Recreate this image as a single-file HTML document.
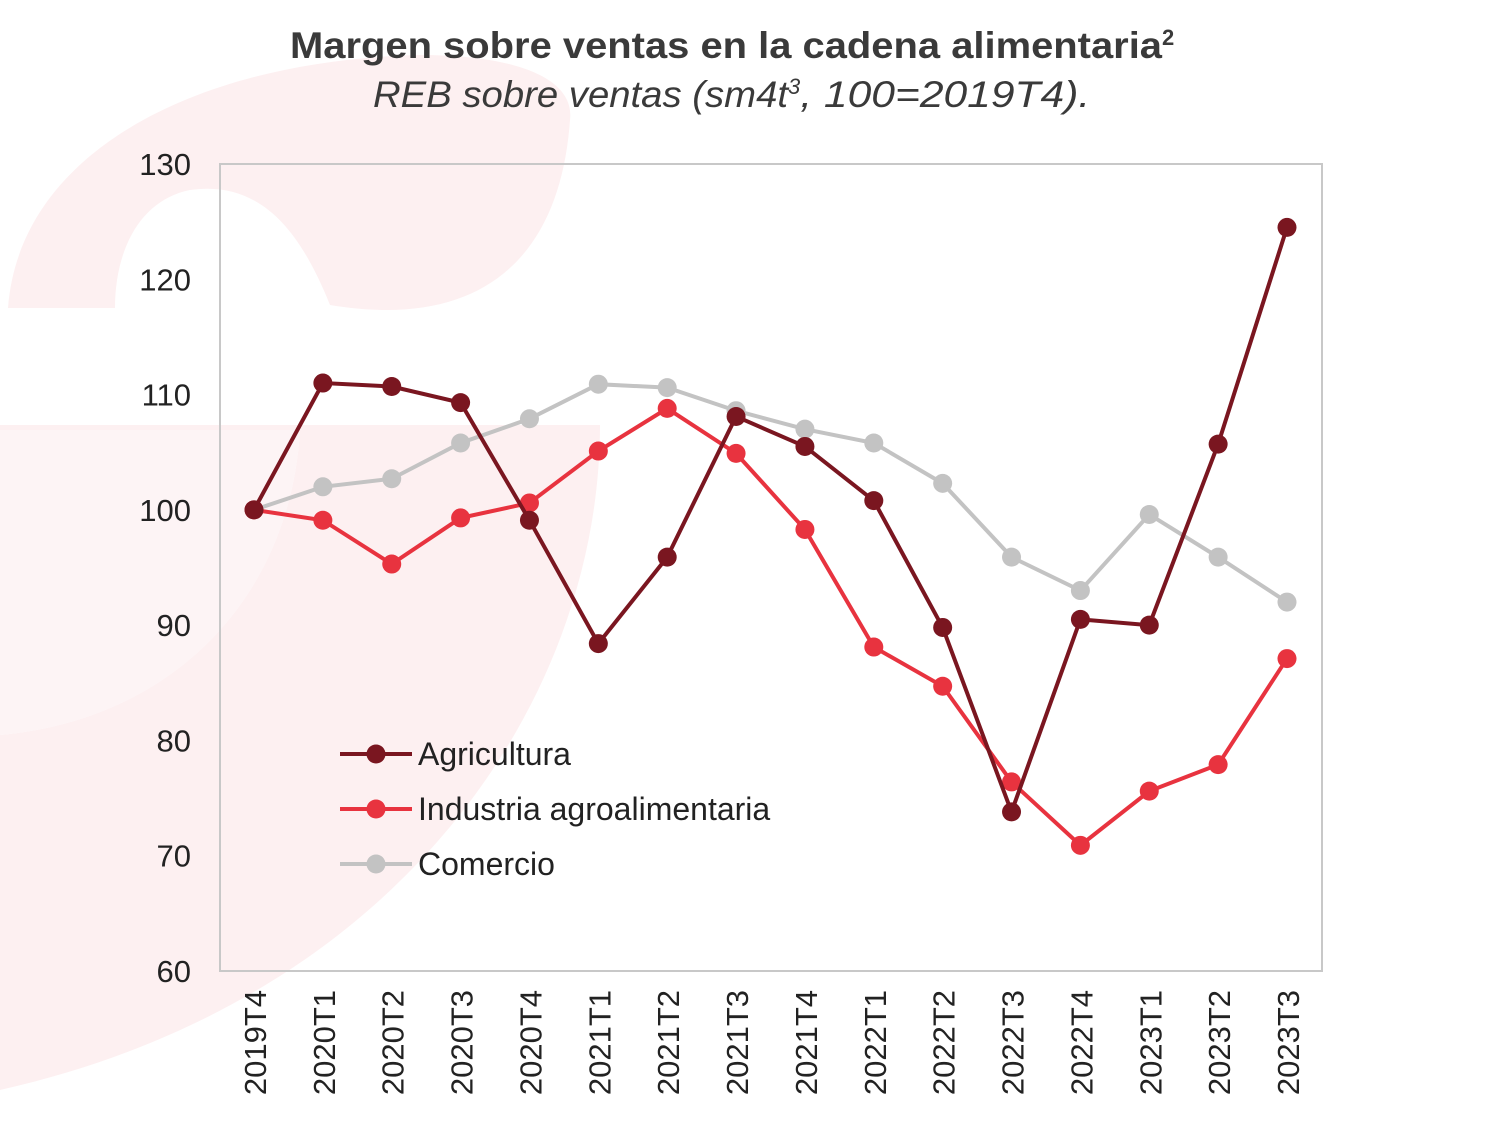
<!DOCTYPE html>
<html><head><meta charset="utf-8"><style>
body{margin:0;background:#fff;}
svg{display:block;font-family:"Liberation Sans",Arial,sans-serif;}
</style></head><body>
<svg id="c" width="1500" height="1144" viewBox="0 0 1500 1144">
<g fill="#fdf0f1">
<path d="M8,308 C20,150 200,60 420,55 C520,55 575,80 570,120 C560,260 480,330 330,305 C300,230 260,180 190,190 C140,200 115,250 115,308 Z"/>
<path d="M0,425 L600,425 C600,700 400,1000 0,1090 L0,735 C170,720 290,600 300,430 L0,430 Z"/>
<path d="M0,430 L300,430 C290,600 170,720 0,735 Z" fill="#fdf4f5"/>
</g>
<text x="290" y="58" font-size="37" font-weight="bold" fill="#3a3a3a"><tspan textLength="872" lengthAdjust="spacingAndGlyphs">Margen sobre ventas en la cadena alimentaria</tspan><tspan font-size="22" dy="-13">2</tspan></text>
<text x="373" y="107" font-size="37" font-style="italic" fill="#3a3a3a"><tspan textLength="415" lengthAdjust="spacingAndGlyphs">REB sobre ventas (sm4t</tspan><tspan font-size="22" dy="-13">3</tspan><tspan dy="13" textLength="290" lengthAdjust="spacingAndGlyphs">, 100=2019T4).</tspan></text>
<rect x="220" y="164" width="1102" height="807" fill="none" stroke="#c8c8c8" stroke-width="2"/>
<g id="yt"></g><g id="xt"></g><g id="series"></g><g id="legend"></g>
</svg>
<script>
const categories=["2019T4","2020T1","2020T2","2020T3","2020T4","2021T1","2021T2","2021T3","2021T4","2022T1","2022T2","2022T3","2022T4","2023T1","2023T2","2023T3"];
const agricultura=[100,111.0,110.7,109.3,99.1,88.4,95.9,108.1,105.5,100.8,89.8,73.8,90.5,90.0,105.7,124.5];
const industria=[100,99.1,95.3,99.3,100.6,105.1,108.8,104.9,98.3,88.1,84.7,76.4,70.9,75.6,77.9,87.1];
const comercio=[100,102.0,102.7,105.8,107.9,110.9,110.6,108.6,107.0,105.8,102.3,95.9,93.0,99.6,95.9,92.0];
const yTicks=[60,70,80,90,100,110,120,130];
const seriesNames=["Agricultura","Industria agroalimentaria","Comercio"];
const NS="http://www.w3.org/2000/svg";
const X=i=>254+i*(1287-254)/(categories.length-1);
const Y=v=>971-(v-60)*(807/70);
function mk(t,a,p){const e=document.createElementNS(NS,t);for(const k in a)e.setAttribute(k,a[k]);p.appendChild(e);return e;}
const yt=document.getElementById('yt');
yTicks.forEach(v=>{const t=mk('text',{x:191,y:Y(v)+11,'text-anchor':'end','font-size':31,fill:'#222'},yt);t.textContent=v;

});
const xt=document.getElementById('xt');
categories.forEach((c,i)=>{const t=mk('text',{transform:`translate(${X(i)+12},990) rotate(-90)`,'text-anchor':'end','font-size':31,fill:'#222'},xt);t.textContent=c;

});
const sg=document.getElementById('series');
const defs=[[comercio,'#c3c3c3','comercio'],[industria,'#e8333f','industria'],[agricultura,'#7a1620','agricultura']];
defs.forEach(([d,col,n])=>{const g=mk('g',{},sg);


const l=mk('polyline',{points:d.map((v,i)=>X(i)+','+Y(v)).join(' '),fill:'none',stroke:col,'stroke-width':4},g);


d.forEach((v,i)=>{const c=mk('circle',{cx:X(i),cy:Y(v),r:9.5,fill:col},g);

});});
const lg=document.getElementById('legend');
[['#7a1620',754],['#e8333f',809],['#c3c3c3',864]].forEach(([col,y],k)=>{const g=mk('g',{},lg);


mk('line',{x1:340,x2:412,y1:y,y2:y,stroke:col,'stroke-width':4},g);
mk('circle',{cx:376,cy:y,r:9.5,fill:col},g);
const t=mk('text',{x:418,y:y+11,'font-size':32,fill:'#222'},g);t.textContent=seriesNames[k];});
</script>
</body></html>
